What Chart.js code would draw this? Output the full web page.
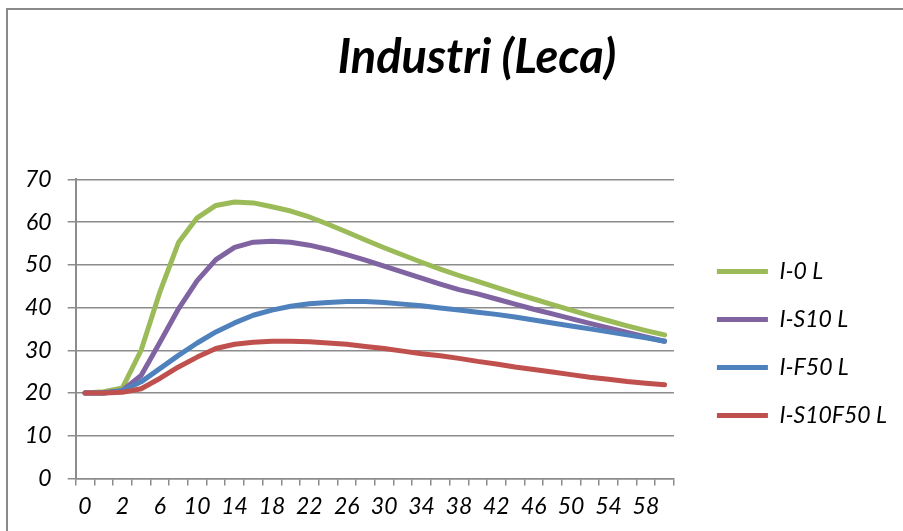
<!DOCTYPE html>
<html>
<head>
<meta charset="utf-8">
<script src="https://cdn.jsdelivr.net/npm/chart.js@4"></script>
<style>
  html, body { margin: 0; padding: 0; background: #ffffff; }
  #wrap { position: relative; width: 903px; height: 531px; overflow: hidden; }
  #frame { position: absolute; left: 6px; top: 8px; right: -10px; bottom: -10px;
           border-left: 2px solid #8a8a8a; border-top: 2px solid #8a8a8a; pointer-events: none; }
  canvas { position: absolute; left: 0; top: 0; }
</style>
</head>
<body>
<div id="wrap">
  <div id="frame"></div>
  <canvas id="c" width="903" height="531"></canvas>
</div>
<script>
// ---- data ----
const titleText = 'Industri (Leca)';
const categories = ['0','1','2','4','6','8','10','12','14','16','18','20','22','24','26','28','30',
                    '32','34','36','38','40','42','44','46','48','50','52','54','56','58','60'];
const seriesNames = ['I-0 L', 'I-S10 L', 'I-F50 L', 'I-S10F50 L'];
const i0L = [20, 20.3, 21.2, 30, 43.6, 55.2, 61.0, 63.9, 64.7, 64.5, 63.6, 62.6, 61.2, 59.5, 57.7, 55.8,
             54.0, 52.3, 50.6, 49.0, 47.5, 46.1, 44.7, 43.3, 42.0, 40.7, 39.4, 38.1, 36.9, 35.7, 34.6, 33.6];
const iS10L = [20, 20, 20.6, 24.1, 31.8, 39.7, 46.3, 51.2, 54.1, 55.3, 55.5, 55.3, 54.6, 53.6, 52.4, 51.1,
               49.7, 48.3, 46.9, 45.5, 44.2, 43.2, 42.0, 40.8, 39.6, 38.5, 37.4, 36.3, 35.2, 34.2, 33.1, 32.1];
const iF50L = [20, 20, 20.5, 22.6, 25.7, 28.8, 31.7, 34.3, 36.4, 38.2, 39.4, 40.3, 40.9, 41.2, 41.4, 41.4,
               41.2, 40.8, 40.4, 39.9, 39.4, 38.9, 38.4, 37.8, 37.1, 36.4, 35.7, 35.0, 34.3, 33.6, 32.9, 32.1];
const iS10F50L = [20, 20, 20.15, 21.0, 23.4, 26.1, 28.4, 30.4, 31.4, 31.9, 32.1, 32.1, 32.0, 31.7, 31.4, 30.9,
                  30.4, 29.8, 29.2, 28.7, 28.1, 27.4, 26.8, 26.1, 25.5, 24.9, 24.3, 23.7, 23.2, 22.7, 22.3, 21.9];
const yMin = 0, yMax = 70, yStep = 10;

// ---- styling ----
const colors = ['#9BBB59', '#8064A2', '#4F81BD', '#C0504D'];
const gridColor = '#8c8c8c';
Chart.defaults.font.family = 'Lato, "Open Sans", sans-serif';
Chart.defaults.color = '#000000';

function ds(i, data, order) {
  return {
    label: seriesNames[i], data: data, order: order,
    borderColor: colors[i], backgroundColor: colors[i],
    borderWidth: 5, borderCapStyle: 'round', borderJoinStyle: 'round',
    pointRadius: 0, pointHoverRadius: 0, tension: 0, fill: false
  };
}

const nudge = {
  id: 'nudge',
  afterLayout(chart) {
    const t = chart.titleBlock;
    if (t) { t.left += 33; t.right += 33; }
    const l = chart.legend;
    if (l) { l.left += 18; l.right += 18; l.top += 80; l.bottom += 80; }
  }
};

new Chart(document.getElementById('c'), {
  type: 'line',
  data: {
    labels: categories,
    datasets: [ds(0, i0L, 3), ds(1, iS10L, 2), ds(2, iF50L, 1), ds(3, iS10F50L, 0)]
  },
  options: {
    responsive: false,
    animation: false,
    events: [],
    layout: { padding: { left: 9, right: 24, top: 0, bottom: 4 } },
    plugins: {
      title: {
        display: true, text: titleText, color: '#000',
        font: { size: 47, weight: 'bold', style: 'italic' },
        padding: { top: 30, bottom: 93 }
      },
      legend: {
        position: 'right', align: 'center',
        labels: {
          boxWidth: 51, boxHeight: 5, padding: 25, color: '#000',
          font: { size: 23, style: 'italic' },
          sort: (a, b) => a.datasetIndex - b.datasetIndex,
          generateLabels(chart) {
            return chart.data.datasets.map((d, i) => ({
              text: d.label, fillStyle: d.borderColor, strokeStyle: d.borderColor,
              lineWidth: 0, hidden: false, datasetIndex: i, fontColor: '#000'
            }));
          }
        }
      },
      tooltip: { enabled: false }
    },
    scales: {
      x: {
        type: 'category', offset: true,
        grid: { display: true, offset: true, drawOnChartArea: false, drawTicks: true,
                tickLength: 7, color: gridColor, lineWidth: 1.5 },
        border: { display: true, color: gridColor, width: 1.5 },
        ticks: {
          autoSkip: false, maxRotation: 0, minRotation: 0, padding: 7, color: '#000',
          font: { size: 23, style: 'italic' },
          callback: function(v, idx) { return idx % 2 === 0 ? this.getLabelForValue(v) : ''; }
        }
      },
      y: {
        min: yMin, max: yMax,
        grid: { color: gridColor, lineWidth: 1.5, tickLength: 8, drawTicks: true },
        border: { display: true, color: gridColor, width: 2 },
        ticks: { stepSize: yStep, padding: 16, color: '#000', font: { size: 23, style: 'italic' } }
      }
    }
  },
  plugins: [nudge]
});
</script>
</body>
</html>
